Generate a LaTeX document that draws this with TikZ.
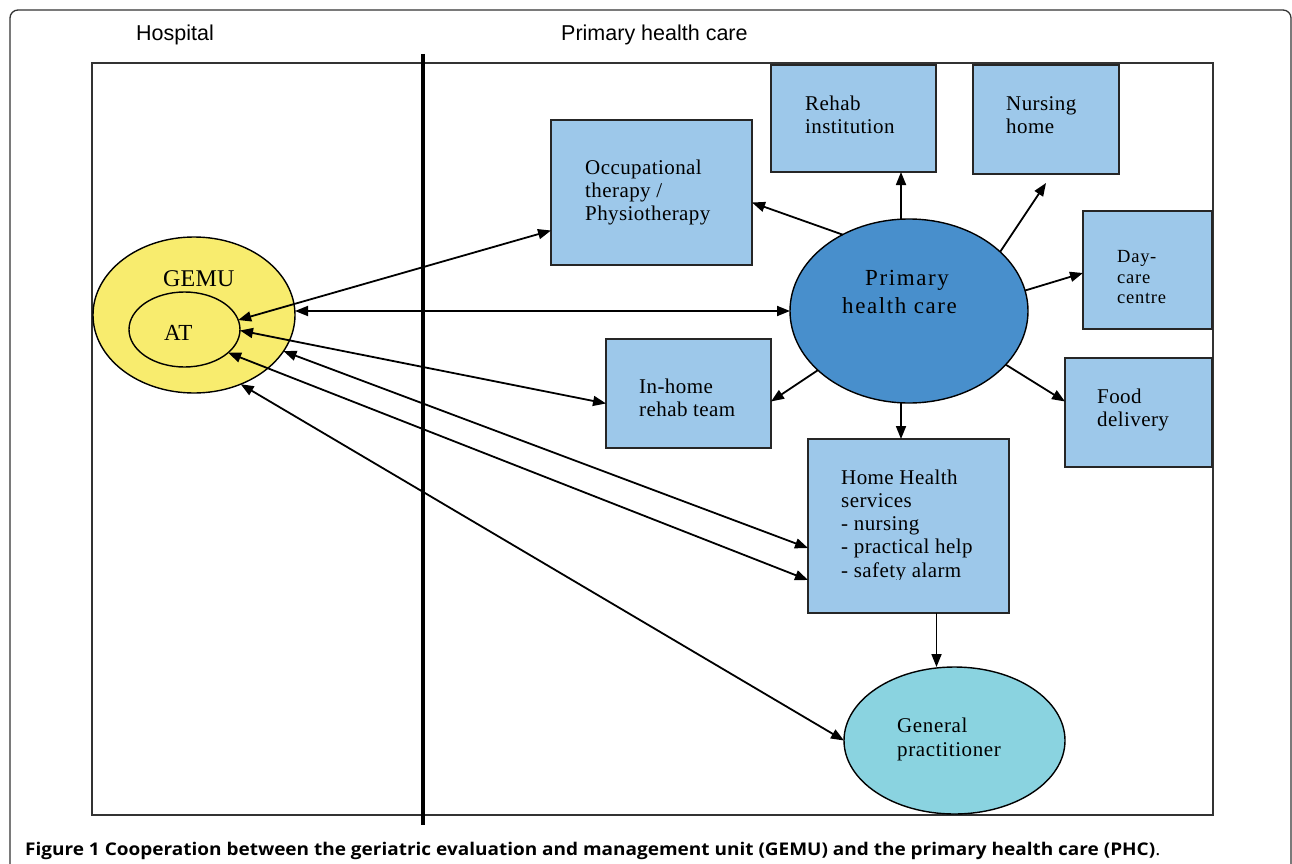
\documentclass[tikz,border=0pt]{standalone}
\usepackage{fontspec}
\setmainfont{Liberation Serif}
\newfontfamily\hdfont{Liberation Sans}
\newfontfamily\capfont{Open Sans}
\usetikzlibrary{arrows.meta,shapes.geometric}
\definecolor{boxblue}{HTML}{9DC8EA}
\definecolor{phcblue}{HTML}{488FCC}
\definecolor{gemuyel}{HTML}{F8EC6E}
\definecolor{gpcyan}{HTML}{8AD3E0}
\begin{document}
\begin{tikzpicture}[x=1pt,y=-1pt,
  box/.style={draw=black!85,line width=1.4pt,fill=boxblue,inner sep=0pt,outer sep=0pt},
  oval/.style={ellipse,draw=black,line width=1.4pt,inner sep=0pt,outer sep=0pt},
  lbl/.style={anchor=base west,inner sep=0pt,align=left,font=\fontsize{21}{23.3}\selectfont\addfontfeature{LetterSpace=2}},
  hdr/.style={anchor=base west,inner sep=0pt,font=\hdfont\fontsize{21.5}{24}\selectfont},
  tip/.tip={Triangle[length=13pt,width=10pt]},
  arr/.style={line width=1.8pt,-tip},
  darr/.style={line width=1.8pt,tip-tip}]
\useasboundingbox (0,0) rectangle (1292,864);
% frames
\draw[line width=1.3pt,black!80,rounded corners=8pt] (10,870) -- (10,10) -- (1291,10) -- (1291,870);
\draw[line width=1.8pt,black!80] (92,63) rectangle (1213,815);
\draw[line width=3.5pt] (423,54) -- (423,825);
% headers
\node[hdr] (hosp) at (136,41) {Hospital};
\node[hdr] (phch) at (561,41) {Primary health care};
% boxes
\node[box,minimum width=201pt,minimum height=145pt] (ot) at (651.5,192.5) {};
\node[box,minimum width=165pt,minimum height=107pt] (rehab) at (853.5,118.5) {};
\node[box,minimum width=146pt,minimum height=109pt] (nh) at (1046,119.5) {};
\node[box,minimum width=129pt,minimum height=118pt] (dc) at (1147.5,270) {};
\node[box,minimum width=147pt,minimum height=109pt] (food) at (1138.5,412.5) {};
\node[box,minimum width=165pt,minimum height=109pt] (inh) at (688.5,393.5) {};
\node[box,minimum width=201pt,minimum height=174pt] (hh) at (908.5,526) {};
% ellipses
\node[oval,fill=phcblue,minimum width=238pt,minimum height=184pt] (phc) at (909,311) {};
\node[oval,fill=gemuyel,minimum width=202pt,minimum height=156pt] (gemu) at (194,315) {};
\node[oval,fill=gemuyel,minimum width=111pt,minimum height=75pt] (at) at (184.5,329.5) {};
\node[oval,fill=gpcyan,minimum width=221pt,minimum height=147pt] (gp) at (954.5,740.5) {};
% labels (base = baseline of last line)
\node[lbl] (otT) at (585,220.6) {Occupational\\therapy /\\Physiotherapy};
\node[lbl] (rehabT) at (805,133.3) {Rehab\\institution};
\node[lbl] (nhT) at (1006,133.3) {Nursing\\home};
\node[lbl,font=\fontsize{18.5}{20.5}\selectfont\addfontfeature{LetterSpace=4}] (dcT) at (1117,303.5) {Day-\\care\\centre};
\node[lbl] (foodT) at (1097,426.3) {Food\\delivery};
\node[lbl] (inhT) at (639,416.3) {In-home\\rehab team};
\begin{scope}
\clip (810,450) rectangle (1005,579);
\node[lbl] (hhT) at (841,577.2) {Home Health\\services\\- nursing\\- practical help\\- safety alarm};
\end{scope}
\node[lbl,font=\fontsize{21}{24}\selectfont\addfontfeature{LetterSpace=3}] (gpT) at (897,756) {General\\practitioner};
\node[lbl,font=\fontsize{23}{28.3}\selectfont\addfontfeature{LetterSpace=7}] (phcT) at (842,313.3) {\hspace*{23pt}Primary\\health care};
\node[lbl,font=\fontsize{24}{28}\selectfont\addfontfeature{LetterSpace=1}] (gemuT) at (163,286) {GEMU};
\node[lbl,font=\fontsize{23}{28}\selectfont] (atT) at (164,340) {AT};
% arrows from PHC
\draw[arr] (phc.131) -- ([yshift=-10pt]ot.east);
\draw[arr] ([xshift=-8pt]phc.north) -- ([xshift=-8pt]phc.north |- rehab.south);
\draw[arr] (phc.33) -- ([yshift=-9pt]nh.south);
\draw[arr] (phc.10) -- ([yshift=-3pt]dc.west);
\draw[arr] (phc.213) -- ([yshift=-8pt]inh.east);
\draw[arr] (phc.-29) -- ([yshift=11pt]food.west);
\draw[arr] ([xshift=-8pt]phc.south) -- ([xshift=-8pt]phc.south |- hh.north);
\draw[arr] ([xshift=28pt]hh.south) -- ([xshift=28pt]hh.south |- gp.north);
% double arrows to hospital
\draw[darr] (at.10) -- ([yshift=-38pt]ot.west);
\draw[darr] (phc.west -| gemu.east) -- (phc.west);
\draw[darr] (at.-1) -- ([yshift=-10pt]inh.west);
\draw[darr] (gemu.-22) -- ([yshift=-22pt]hh.west);
\draw[darr] (at.-28) -- ([yshift=-54pt]hh.west);
\draw[darr] (gemu.-56) -- (gp.west);
% caption
\node[anchor=base west,inner sep=0pt,font=\capfont\fontsize{17.5}{20}\selectfont] (cap) at (25,855)
 {\scalebox{1.085}[1]{\textbf{Figure 1 Cooperation between the geriatric evaluation and management unit (GEMU) and the primary health care (PHC)}.}};
\end{tikzpicture}
\end{document}
